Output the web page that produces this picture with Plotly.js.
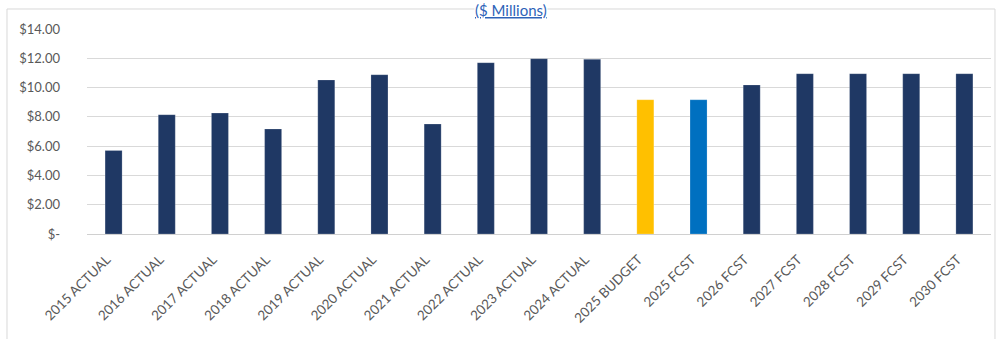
<!DOCTYPE html>
<html>
<head>
<meta charset="utf-8">
<script src="https://cdn.plot.ly/plotly-3.0.1.min.js"></script>
<style>html,body{margin:0;padding:0;background:#fff;}#chart{width:1000px;height:339px;}</style>
</head>
<body>
<div id="chart"></div>
<script>
const categories = ["2015 ACTUAL","2016 ACTUAL","2017 ACTUAL","2018 ACTUAL","2019 ACTUAL","2020 ACTUAL","2021 ACTUAL","2022 ACTUAL","2023 ACTUAL","2024 ACTUAL","2025 BUDGET","2025 FCST","2026 FCST","2027 FCST","2028 FCST","2029 FCST","2030 FCST"];
const values = [5.70, 8.15, 8.26, 7.17, 10.52, 10.88, 7.51, 11.70, 11.97, 11.93, 9.17, 9.17, 10.18, 10.95, 10.95, 10.95, 10.95];
const barColors = ["#1f3864","#1f3864","#1f3864","#1f3864","#1f3864","#1f3864","#1f3864","#1f3864","#1f3864","#1f3864","#ffc000","#0070c0","#1f3864","#1f3864","#1f3864","#1f3864","#1f3864"];
const yTickVals = [0, 2, 4, 6, 8, 10, 12, 14];
const yTickText = ["$-", "$2.00", "$4.00", "$6.00", "$8.00", "$10.00", "$12.00", "$14.00"];
const titleText = "<u>($ Millions)</u>";

const trace = {
  type: "bar",
  x: categories,
  y: values,
  marker: {color: barColors, line: {color: "rgba(255,255,255,0.4)", width: 0.5}},
  width: 0.32,
  hoverinfo: "x+y"
};

const layout = {
  width: 1000, height: 339,
  margin: {l: 87, r: 9, t: 29, b: 105},
  paper_bgcolor: "#ffffff",
  plot_bgcolor: "#ffffff",
  showlegend: false,
  font: {family: "Lato, 'Open Sans', sans-serif", color: "#595959", size: 13},
  xaxis: {
    tickangle: -45,
    tickfont: {size: 13.5, color: "#595959"},
    showgrid: false,
    showline: false,
    zeroline: false,
    ticks: "",
    ticklabelstandoff: 14,
    ticklabelshift: -7,
    fixedrange: true
  },
  yaxis: {
    range: [0, 14],
    tickvals: yTickVals,
    ticktext: yTickText,
    tickfont: {size: 13, color: "#595959"},
    showgrid: true,
    gridcolor: "#d9d9d9",
    gridwidth: 1,
    zeroline: true,
    zerolinecolor: "#d0d0d0",
    zerolinewidth: 1,
    showline: false,
    ticks: "",
    ticklabelstandoff: 26,
    fixedrange: true
  },
  annotations: [{
    text: titleText,
    xref: "paper", yref: "paper",
    x: 0.469, y: 1.141,
    xanchor: "center", yanchor: "top",
    showarrow: false,
    bgcolor: "#ffffff",
    borderpad: 0,
    font: {size: 15, color: "#2e63b8", family: "Lato, 'Open Sans', sans-serif"}
  }],
  shapes: [{
    type: "rect",
    xref: "paper", yref: "paper",
    x0: -0.0885, x1: 1.0044, y0: -0.52, y1: 1.0976,
    line: {color: "#d9d9d9", width: 1},
    fillcolor: "rgba(0,0,0,0)",
    layer: "below"
  }]
};

Plotly.newPlot("chart", [trace], layout, {displayModeBar: false, staticPlot: true});
</script>
</body>
</html>
